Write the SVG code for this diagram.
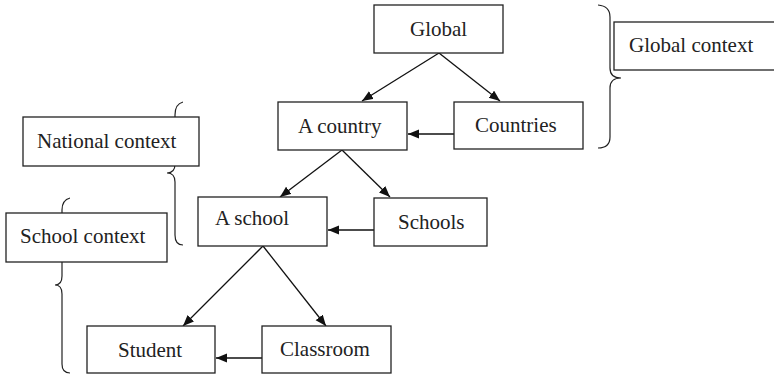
<svg xmlns="http://www.w3.org/2000/svg" width="774" height="377" viewBox="0 0 774 377">
<style>
.box{fill:#fff;stroke:#222;stroke-width:1.3}
.t{font-family:"Liberation Serif","Times New Roman",serif;font-size:21px;fill:#222}
.c{stroke:#111;stroke-width:1.3;fill:none}
.br{stroke:#222;stroke-width:1.2;fill:none}
</style>
<defs>
<marker id="ah" markerUnits="userSpaceOnUse" markerWidth="12" markerHeight="10" refX="11" refY="4.5" orient="auto">
<path d="M0,0 L11,4.5 L0,9 z" fill="#111"/>
</marker>
</defs>
<rect width="774" height="377" fill="#fff"/>
<g id="braces">
<path class="br" d="M598,5 Q610,6 610,17 L610,68 Q610,78 621,78 Q610,78 610,88 L610,137 Q610,148 598,148"/>
<path class="br" d="M183,102 Q175,104 175,115 L175,164 Q175,173 167,173 Q175,173 175,182 L175,235 Q175,245 183,245"/>
<path class="br" d="M70,198 Q62,200 62,210 L62,276 Q62,285 55,285 Q62,285 62,294 L62,364 Q62,373 70,373"/>
</g>
<g id="connectors">
<line class="c" x1="439" y1="53" x2="362" y2="101" marker-end="url(#ah)"/>
<line class="c" x1="439" y1="53" x2="500" y2="101" marker-end="url(#ah)"/>
<line class="c" x1="454" y1="134" x2="408" y2="134" marker-end="url(#ah)"/>
<line class="c" x1="342" y1="150" x2="280" y2="197" marker-end="url(#ah)"/>
<line class="c" x1="342" y1="150" x2="390" y2="197" marker-end="url(#ah)"/>
<line class="c" x1="374" y1="230" x2="328" y2="230" marker-end="url(#ah)"/>
<line class="c" x1="263" y1="246" x2="183" y2="326" marker-end="url(#ah)"/>
<line class="c" x1="263" y1="246" x2="326" y2="326" marker-end="url(#ah)"/>
<line class="c" x1="262" y1="358" x2="216" y2="358" marker-end="url(#ah)"/>
</g>
<g id="global"><rect class="box" x="374" y="5" width="129" height="48"/><text class="t" x="410" y="36">Global</text></g>
<g id="global-context"><rect class="box" x="614" y="22" width="170" height="48"/><text class="t" x="629" y="52">Global context</text></g>
<g id="a-country"><rect class="box" x="278" y="102" width="129" height="48"/><text class="t" x="298" y="133">A country</text></g>
<g id="countries"><rect class="box" x="454" y="102" width="129" height="47"/><text class="t" x="475" y="132">Countries</text></g>
<g id="national-context"><rect class="box" x="23" y="117" width="176" height="49"/><text class="t" x="37" y="148">National context</text></g>
<g id="a-school"><rect class="box" x="198" y="197" width="129" height="49"/><text class="t" x="215" y="225">A school</text></g>
<g id="schools"><rect class="box" x="374" y="198" width="113" height="48"/><text class="t" x="398" y="229">Schools</text></g>
<g id="school-context"><rect class="box" x="6" y="213" width="161" height="49"/><text class="t" x="20" y="243">School context</text></g>
<g id="student"><rect class="box" x="87" y="326" width="128" height="47"/><text class="t" x="118" y="357">Student</text></g>
<g id="classroom"><rect class="box" x="262" y="326" width="129" height="47"/><text class="t" x="280" y="356">Classroom</text></g>
</svg>
